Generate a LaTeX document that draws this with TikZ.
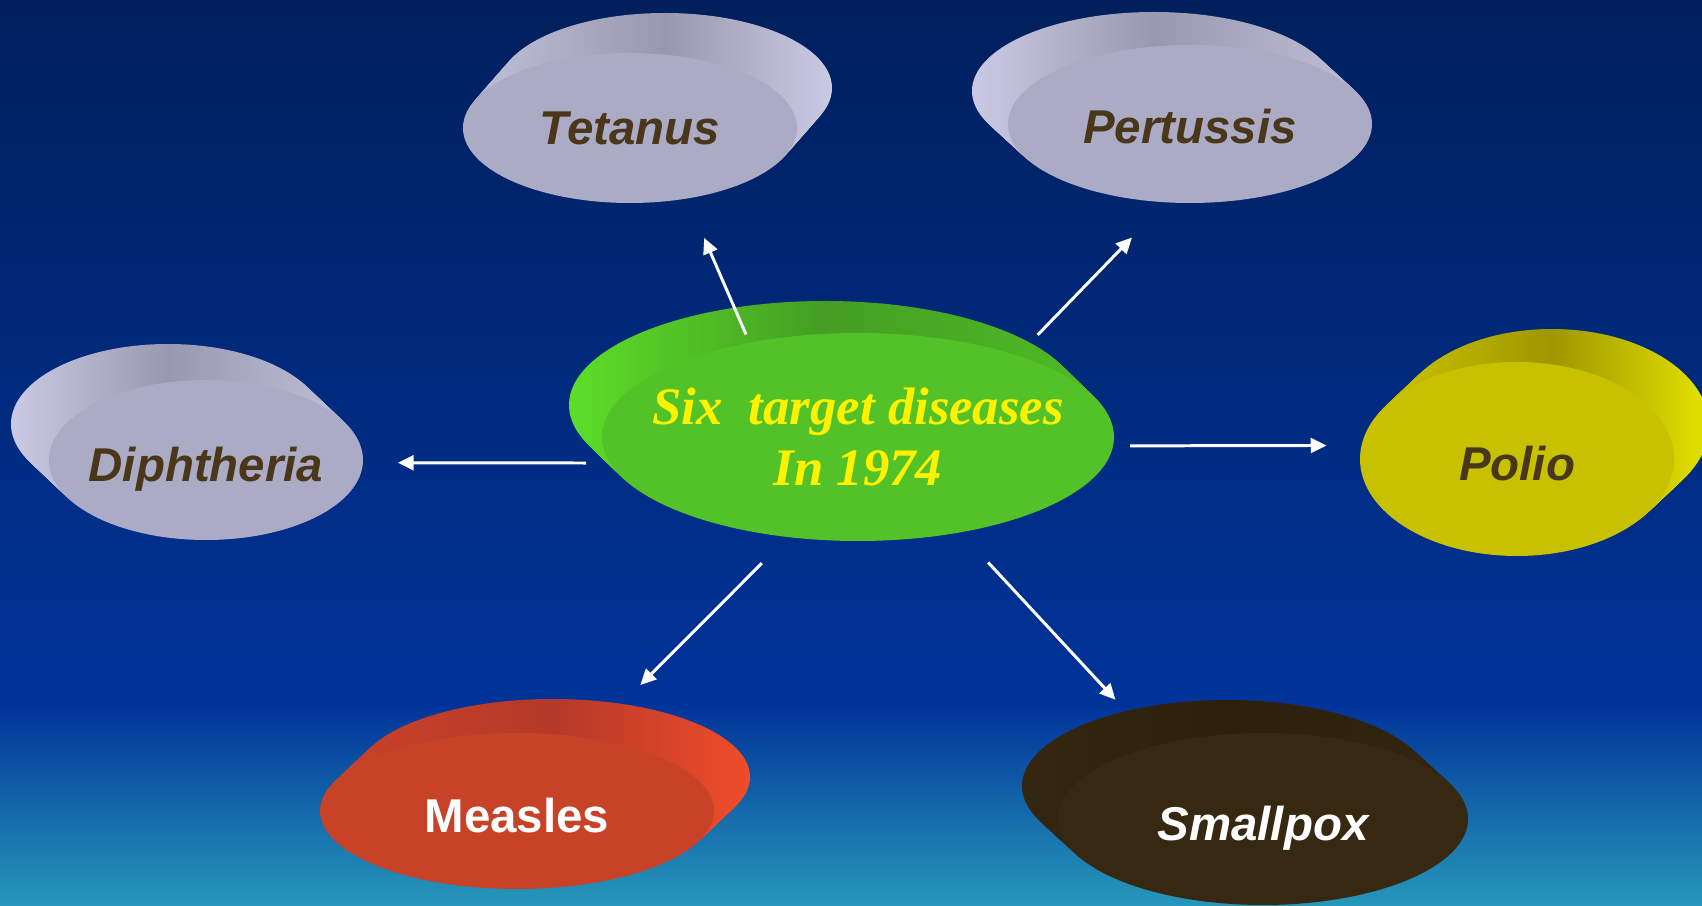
\documentclass[tikz,border=0pt]{standalone}
\usepackage{fontspec}
\setmainfont{Liberation Serif}
\setsansfont{Liberation Sans}
\usetikzlibrary{arrows.meta, shapes.geometric, calc, backgrounds}

\definecolor{bgtop}{RGB}{0,31,92}
\definecolor{bgmid}{RGB}{0,51,153}
\definecolor{bgteal}{RGB}{38,152,186}
\definecolor{txtbrown}{RGB}{74,54,24}
% face colours
\definecolor{greyface}{RGB}{171,171,198}
\definecolor{hubface}{RGB}{82,194,40}
\definecolor{polface}{RGB}{200,193,0}
\definecolor{meaface}{RGB}{200,66,40}
\definecolor{smaface}{RGB}{55,40,18}
% side colours: rim (lit end), top (shadow), near
\definecolor{greyrim}{RGB}{202,202,228}
\definecolor{greytop}{RGB}{152,152,176}
\definecolor{greynear}{RGB}{186,186,210}
\definecolor{hubrim}{RGB}{92,222,40}
\definecolor{hubtop}{RGB}{68,158,34}
\definecolor{hubnear}{RGB}{78,185,38}
\definecolor{polrim}{RGB}{228,226,0}
\definecolor{poltop}{RGB}{158,151,0}
\definecolor{polnear}{RGB}{200,193,0}
\definecolor{mearim}{RGB}{240,76,42}
\definecolor{meatop}{RGB}{180,57,40}
\definecolor{meanear}{RGB}{200,65,40}
\definecolor{smarim}{RGB}{52,38,16}
\definecolor{smatop}{RGB}{44,32,12}
\definecolor{smanear}{RGB}{50,36,14}

\begin{document}
\begin{tikzpicture}[
    disc/.style={ellipse, fill=#1, inner sep=0pt, inner xsep=-6mm, outer sep=0pt},      % front face of a disc
    illness/.style={font=\sffamily\bfseries\itshape\fontsize{13.5}{16}\selectfont,
                    text=txtbrown, text height=12.3pt, text depth=0pt},                 % disease labels
    link/.style={draw=white, line width=0.85pt, -{Triangle[length=4.5pt, width=4.2pt]}} % white arrows
]

% --- BACKGROUND ---
\begin{scope}[on background layer]
\shade[top color=bgtop, bottom color=bgmid] (0,2) rectangle (17.02,9.06);
\shade[top color=bgmid, bottom color=bgteal] (0,0) rectangle (17.02,2.01);
\end{scope}
\useasboundingbox (0,0) rectangle (17.02,9.06);

% --- CENTRE DISC ---
\node[disc=hubface, minimum width=5.12cm, minimum height=2.08cm, text=yellow, align=center,
      font=\rmfamily\bfseries\itshape\fontsize{15}{17.3}\selectfont] (hub) at (8.58,4.69) {Six\ \ target diseases\\In 1974};

% --- DISEASE DISCS ---
\node[disc=greyface, illness, text height=9.3pt, minimum width=3.34cm, minimum height=1.50cm] (tetanus) at (6.30,7.78) {Tetanus};
\node[disc=greyface, illness, text height=11pt, minimum width=3.64cm, minimum height=1.58cm] (pertussis) at (11.90,7.82) {Pertussis};
\node[disc=greyface, illness, minimum width=3.14cm, minimum height=1.60cm] (diphtheria) at (2.06,4.46) {Diphtheria};
\node[disc=polface, illness, minimum width=3.14cm, minimum height=1.94cm] (polio) at (15.17,4.47) {Polio};
\node[disc=meaface, illness, minimum width=3.94cm, minimum height=1.56cm, text=white,
      font=\sffamily\bfseries\fontsize{13.5}{16}\selectfont] (measles) at (5.17,0.95) {Measles};
\node[disc=smaface, illness, minimum width=4.10cm, minimum height=1.72cm, text=white] (smallpox) at (12.63,0.87) {Smallpox};

% --- DISC SIDES (front face swept back, shaded left to right) ---
\begin{scope}[on background layer]
\foreach \n/\rx/\ry/\dx/\dy/\cl/\cm/\cr in {hub/2.56/1.04/-0.33/0.32/hubrim/hubtop/hubnear,
    tetanus/1.67/0.75/0.35/0.40/greynear/greytop/greyrim,
    pertussis/1.82/0.79/-0.36/0.33/greyrim/greytop/greynear,
    diphtheria/1.57/0.80/-0.38/0.36/greyrim/greytop/greynear,
    polio/1.57/0.97/0.35/0.33/polnear/poltop/polrim,
    measles/1.97/0.78/0.36/0.34/meanear/meatop/mearim,
    smallpox/2.05/0.86/-0.36/0.33/smarim/smatop/smanear}
  \foreach \k in {1,...,16}
    \shade[left color=\cl, right color=\cr, middle color=\cm]
      ($(\n)+({\k*(\dx)/16},{\k*(\dy)/16})$) ellipse (\rx cm and \ry cm);
\end{scope}

% --- ARROWS FROM THE CENTRE ---
\draw[link, shorten <=0.09cm, shorten >=0.43cm] (hub.139) -- (tetanus.-51);
\draw[link, shorten <=0.29cm, shorten >=0.49cm] (hub.27) -- (pertussis.-107);
\draw[link, shorten <=0.24cm, shorten >=0.35cm] (hub.186) -- (diphtheria.-1);
\draw[link, shorten <=0.17cm, shorten >=0.35cm] (hub.-2) -- (polio.175);
\draw[link, shorten <=0.37cm, shorten >=0.75cm] (hub.-125) -- (measles.46);
\draw[link, shorten <=0.41cm, shorten >=0.62cm] (hub.-43) -- (smallpox.145);

\end{tikzpicture}
\end{document}
